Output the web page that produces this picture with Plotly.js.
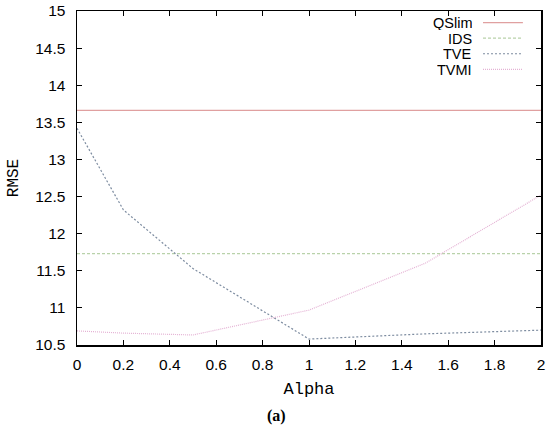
<!DOCTYPE html>
<html>
<head>
<meta charset="utf-8">
<script src="https://cdn.plot.ly/plotly-3.0.1.min.js"></script>
<style>html,body{margin:0;padding:0;background:#fff;}#chart{width:550px;height:427px;}</style>
</head>
<body>
<div id="chart"></div>
<script>
// Data
var seriesNames = ["QSlim", "IDS", "TVE", "TVMI"];
var qslimAlpha = [0, 2];
var qslimRMSE = [13.66, 13.66];
var idsAlpha = [0, 2];
var idsRMSE = [11.73, 11.73];
var tveAlpha = [0, 0.2, 0.5, 1, 1.5, 2];
var tveRMSE = [13.42, 12.32, 11.53, 10.58, 10.65, 10.70];
var tvmiAlpha = [0, 0.2, 0.5, 1, 1.5, 2];
var tvmiRMSE = [10.69, 10.66, 10.635, 10.97, 11.60, 12.52];

var colors = ["rgb(224,160,160)", "rgb(185,210,170)", "rgb(125,140,160)", "rgb(228,178,212)"];
var dashes = ["solid", "3px,2px", "2px,2px", "1px,1px"];
var xs = [qslimAlpha, idsAlpha, tveAlpha, tvmiAlpha];
var ys = [qslimRMSE, idsRMSE, tveRMSE, tvmiRMSE];

var traces = seriesNames.map(function (n, i) {
  return {x: xs[i], y: ys[i], name: n, mode: "lines", type: "scatter",
          line: {color: colors[i], width: 1.2, dash: dashes[i]}, showlegend: false};
});

var sansFont = "Liberation Sans, Arial, sans-serif";
var monoFont = "Liberation Mono, Courier New, monospace";

// custom gnuplot-style legend (text right, sample line to the right)
var annotations = [];
var shapes = [];
var legTop = 0.965, legStep = 0.0465;
seriesNames.forEach(function (n, i) {
  var yy = legTop - i * legStep;
  annotations.push({xref: "paper", yref: "paper", x: 0.853, y: yy, xanchor: "right", yanchor: "middle",
    height: 15, valign: "middle", borderpad: 0,
    text: n, showarrow: false, font: {family: sansFont, size: 14.5, color: "#000"}});
  shapes.push({type: "line", xref: "paper", yref: "paper", x0: 0.875, x1: 0.961, y0: yy, y1: yy,
    line: {color: colors[i], width: 1.2, dash: dashes[i]}});
});
annotations.push({xref: "paper", yref: "paper", x: 0.431, y: -0.213, xanchor: "center", yanchor: "middle",
  text: "<b>(a)</b>", showarrow: false, font: {family: "Liberation Serif, Times New Roman, serif", size: 16, color: "#000"}});

var tickFont = {family: sansFont, size: 15.5, color: "#000"};
var layout = {
  width: 550, height: 427,
  margin: {l: 77, r: 9, t: 11, b: 82},
  paper_bgcolor: "#fff", plot_bgcolor: "#fff",
  showlegend: false,
  xaxis: {range: [0, 2], dtick: 0.2, tick0: 0, ticks: "inside", ticklen: 5, tickcolor: "#000",
    showline: true, linecolor: "#000", linewidth: 1.5, mirror: "ticks", showgrid: false, zeroline: false,
    tickfont: tickFont, ticklabelstandoff: 5,
    title: {text: "Alpha", font: {family: monoFont, size: 17, color: "#000"}, standoff: 10}},
  yaxis: {range: [10.5, 15], dtick: 0.5, tick0: 10.5, ticks: "inside", ticklen: 5, tickcolor: "#000",
    showline: true, linecolor: "#000", linewidth: 1.5, mirror: "ticks", showgrid: false, zeroline: false,
    tickfont: tickFont, ticklabelstandoff: 7,
    title: {text: "RMSE", font: {family: monoFont, size: 16, color: "#000"}, standoff: 12}},
  annotations: annotations,
  shapes: shapes
};
Plotly.newPlot("chart", traces, layout, {displayModeBar: false, staticPlot: true});
</script>
</body>
</html>
